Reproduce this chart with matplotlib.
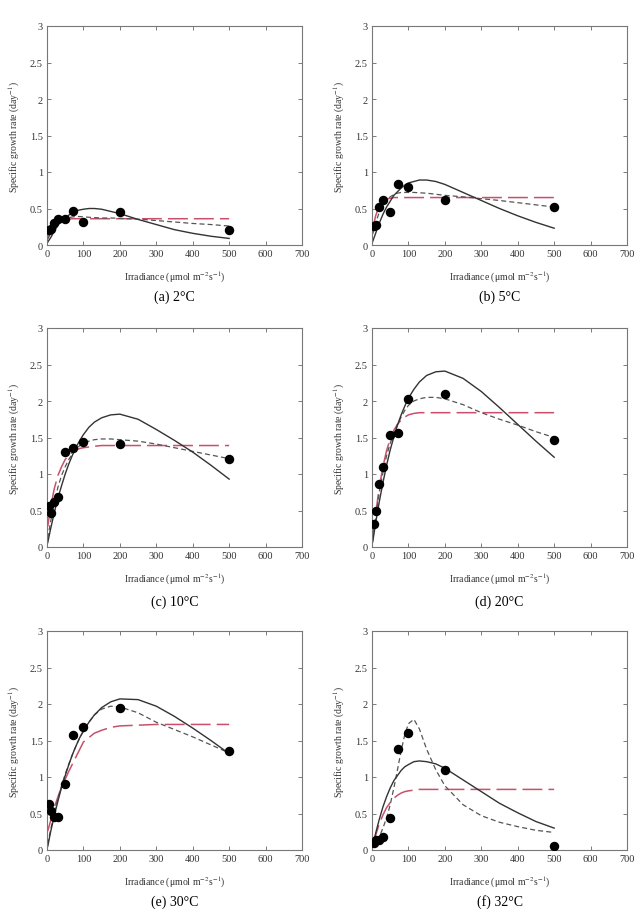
import matplotlib
matplotlib.use("Agg")
import matplotlib.pyplot as plt

plt.rcParams["font.family"] = ["Liberation Serif", "DejaVu Serif"]
plt.rcParams["mathtext.fontset"] = "stix"

# measured points (light levels, umol m-2 s-1)
light = [5, 10, 20, 30, 50, 70, 100, 200, 500]
obs_2 = [0.20, 0.22, 0.30, 0.35, 0.36, 0.46, 0.32, 0.45, 0.20]
obs_5 = [0.26, 0.27, 0.52, 0.62, 0.45, 0.83, 0.80, 0.62, 0.52]
obs_10 = [0.56, 0.46, 0.62, 0.69, 1.30, 1.36, 1.44, 1.41, 1.21]
obs_20 = [0.32, 0.50, 0.86, 1.10, 1.53, 1.56, 2.03, 2.09, 1.46]
obs_30 = [0.63, 0.54, 0.45, 0.45, 0.91, 1.57, 1.68, 1.94, 1.36]
obs_32 = [0.09, 0.14, 0.14, 0.18, 0.44, 1.38, 1.60, 1.09, 0.06]

# fitted curves
fit_x = [2, 10, 20, 30, 40, 50, 60, 70, 80, 90, 100, 115, 130, 150, 175, 200,
         250, 300, 350, 400, 450, 500]

solid_2 = [0.04, 0.10, 0.19, 0.27, 0.33, 0.37, 0.41, 0.44, 0.47, 0.48, 0.49, 0.50,
           0.50, 0.49, 0.46, 0.43, 0.35, 0.28, 0.21, 0.16, 0.12, 0.09]
dash_2 = [0.08, 0.16, 0.24, 0.30, 0.34, 0.36, 0.375, 0.385, 0.39, 0.39, 0.385, 0.38,
          0.375, 0.37, 0.37, 0.365, 0.355, 0.335, 0.315, 0.295, 0.28, 0.26]
red_2 = [0.10, 0.20, 0.28, 0.32, 0.34, 0.35, 0.355, 0.36, 0.36, 0.36, 0.36, 0.36,
         0.36, 0.36, 0.36, 0.36, 0.36, 0.36, 0.36, 0.36, 0.36, 0.36]

solid_5 = [0.05, 0.16, 0.30, 0.42, 0.52, 0.60, 0.68, 0.73, 0.78, 0.82, 0.85, 0.87,
           0.89, 0.89, 0.87, 0.83, 0.72, 0.61, 0.50, 0.40, 0.31, 0.23]
dash_5 = [0.15, 0.30, 0.45, 0.55, 0.62, 0.66, 0.69, 0.71, 0.72, 0.72, 0.72, 0.72,
          0.715, 0.71, 0.695, 0.68, 0.66, 0.635, 0.61, 0.58, 0.55, 0.52]
red_5 = [0.22, 0.40, 0.54, 0.60, 0.63, 0.64, 0.65, 0.65, 0.65, 0.65, 0.65, 0.65,
         0.65, 0.65, 0.65, 0.65, 0.65, 0.65, 0.65, 0.65, 0.65, 0.65]

solid_10 = [0.06, 0.25, 0.47, 0.67, 0.84, 1.00, 1.14, 1.26, 1.37, 1.46, 1.54, 1.64,
            1.71, 1.77, 1.81, 1.82, 1.75, 1.61, 1.46, 1.30, 1.12, 0.93]
dash_10 = [0.12, 0.35, 0.60, 0.82, 0.98, 1.10, 1.20, 1.28, 1.34, 1.39, 1.42, 1.45,
           1.47, 1.48, 1.48, 1.47, 1.45, 1.41, 1.36, 1.31, 1.26, 1.21]
red_10 = [0.28, 0.55, 0.80, 0.98, 1.10, 1.20, 1.26, 1.30, 1.33, 1.35, 1.36, 1.37,
          1.38, 1.39, 1.39, 1.39, 1.39, 1.39, 1.39, 1.39, 1.39, 1.39]

solid_20 = [0.07, 0.33, 0.62, 0.88, 1.12, 1.33, 1.51, 1.67, 1.81, 1.93, 2.04, 2.16,
            2.26, 2.35, 2.40, 2.41, 2.31, 2.13, 1.91, 1.68, 1.45, 1.23]
dash_20 = [0.10, 0.40, 0.75, 1.02, 1.25, 1.42, 1.56, 1.68, 1.78, 1.87, 1.94, 2.00,
           2.03, 2.05, 2.05, 2.03, 1.95, 1.84, 1.75, 1.67, 1.58, 1.50]
red_20 = [0.10, 0.45, 0.82, 1.10, 1.32, 1.48, 1.60, 1.68, 1.74, 1.78, 1.81, 1.83,
          1.84, 1.84, 1.84, 1.84, 1.84, 1.84, 1.84, 1.84, 1.84, 1.84]

solid_30 = [0.05, 0.25, 0.47, 0.67, 0.86, 1.02, 1.17, 1.31, 1.43, 1.54, 1.63, 1.75,
            1.85, 1.95, 2.03, 2.07, 2.06, 1.97, 1.83, 1.67, 1.50, 1.32]
dash_30 = [0.08, 0.28, 0.50, 0.70, 0.88, 1.04, 1.18, 1.31, 1.43, 1.54, 1.63, 1.75,
           1.85, 1.93, 1.97, 1.96, 1.88, 1.75, 1.65, 1.55, 1.44, 1.33]
red_30 = [0.26, 0.40, 0.58, 0.73, 0.86, 0.97, 1.08, 1.18, 1.28, 1.38, 1.48, 1.54,
          1.60, 1.64, 1.68, 1.70, 1.71, 1.72, 1.72, 1.72, 1.72, 1.72]

solid_32 = [0.05, 0.23, 0.42, 0.59, 0.73, 0.85, 0.95, 1.02, 1.09, 1.14, 1.17, 1.21,
            1.22, 1.21, 1.18, 1.12, 0.96, 0.80, 0.64, 0.51, 0.39, 0.30]
dash_32 = [0.03, 0.08, 0.18, 0.30, 0.44, 0.62, 0.85, 1.10, 1.36, 1.58, 1.73, 1.79,
           1.66, 1.38, 1.10, 0.88, 0.62, 0.47, 0.38, 0.32, 0.27, 0.24]
red_32 = [0.08, 0.20, 0.36, 0.48, 0.58, 0.65, 0.71, 0.75, 0.78, 0.80, 0.81, 0.82,
          0.83, 0.83, 0.83, 0.83, 0.83, 0.83, 0.83, 0.83, 0.83, 0.83]

captions = ["(a) 2°C", "(b) 5°C", "(c) 10°C", "(d) 20°C", "(e) 30°C", "(f) 32°C"]
obs = [obs_2, obs_5, obs_10, obs_20, obs_30, obs_32]
solids = [solid_2, solid_5, solid_10, solid_20, solid_30, solid_32]
dashes = [dash_2, dash_5, dash_10, dash_20, dash_30, dash_32]
reds = [red_2, red_5, red_10, red_20, red_30, red_32]

W, H = 643, 912
fig = plt.figure(figsize=(W / 100, H / 100), dpi=100)

lefts = [47, 372]
tops = [27, 329, 632]
aw, ah = 255, 219
cap_y = [297, 602, 902]

for i in range(6):
    r, c = divmod(i, 2)
    ax = fig.add_axes([lefts[c] / W, 1 - (tops[r] + ah) / H, aw / W, ah / H])

    ax.plot(fit_x, reds[i], color="#c8506b", lw=1.1, dashes=(13, 4))
    ax.plot(fit_x, dashes[i], color="#555555", lw=0.9, dashes=(4, 2.5))
    ax.plot(fit_x, solids[i], color="#333333", lw=1.0)
    ax.plot(light, obs[i], "o", color="black", ms=5.8, zorder=5)

    ax.set_xlim(0, 700)
    ax.set_ylim(0, 3)
    ax.set_xticks(range(0, 701, 100))
    ax.set_yticks([0, 0.5, 1, 1.5, 2, 2.5, 3])
    ax.set_yticklabels(["0", "0.5", "1", "1.5", "2", "2.5", "3"])
    ax.tick_params(direction="in", top=True, right=True, length=3, width=0.6,
                   color="#666666", labelsize=7.5, labelcolor="#333333", pad=3)
    for s in ax.spines.values():
        s.set_color("#777777")
        s.set_linewidth(0.8)

    ax.set_xlabel("Irradiance (μmol m$^{-2}$s$^{-1}$)", fontsize=7, color="#333333")
    ax.set_ylabel("Specific growth rate (day$^{-1}$)", fontsize=7, color="#333333")
    ax.xaxis.set_label_coords(0.5, -0.11)
    ax.yaxis.set_label_coords(-0.098, 0.5)

    fig.text((lefts[c] + aw / 2) / W, 1 - cap_y[r] / H, captions[i],
             ha="center", va="center", fontsize=10)

fig.savefig("out.png", dpi=100)
